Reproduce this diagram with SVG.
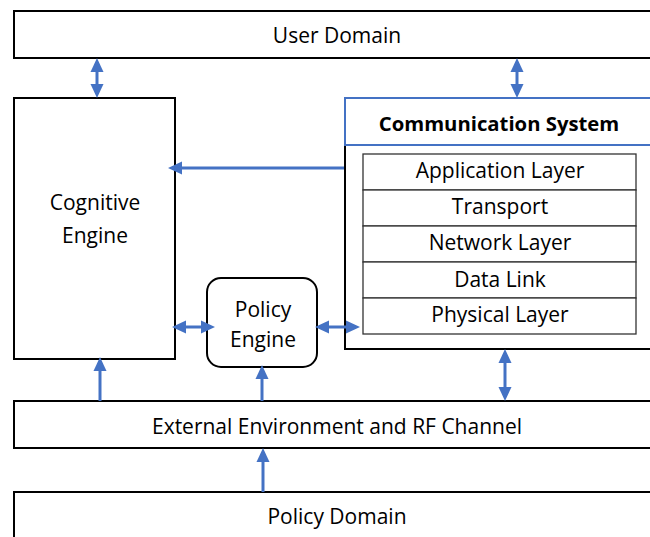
<svg xmlns="http://www.w3.org/2000/svg" width="650" height="537" viewBox="0 0 650 537">
  <style>
    .box { fill: #ffffff; stroke: #000000; stroke-width: 2; }
    .blue-box { fill: #ffffff; stroke: #4472C4; stroke-width: 2; }
    .layer { fill: #ffffff; stroke: #333333; stroke-width: 1.3; }
    .lbl { font-family: "Open Sans", "Liberation Sans", sans-serif; font-size: 21px; fill: #000000; text-anchor: middle; }
    .title { font-weight: bold; font-size: 20.3px; }
    .conn { stroke: #4472C4; stroke-width: 3; fill: none; }
  </style>
  <defs>
    <marker id="arrow" markerUnits="userSpaceOnUse" markerWidth="14" markerHeight="14" viewBox="0 0 14 14" refX="10" refY="7" orient="auto-start-reverse">
      <path d="M0,0.5 L14,7 L0,13.5 z" fill="#4472C4"/>
    </marker>
  </defs>

  <rect width="650" height="537" fill="#ffffff"/>

  <g id="user-domain">
    <rect class="box" x="14" y="11" width="646" height="47"/>
    <text class="lbl" x="337" y="43">User Domain</text>
  </g>

  <g id="cognitive-engine">
    <rect class="box" x="14" y="98" width="161" height="261"/>
    <text class="lbl" x="95" y="210">Cognitive</text>
    <text class="lbl" x="95" y="243">Engine</text>
  </g>

  <g id="policy-engine">
    <rect class="box" x="207" y="278" width="110" height="89" rx="14" ry="14"/>
    <text class="lbl" x="263" y="317">Policy</text>
    <text class="lbl" x="263" y="347">Engine</text>
  </g>

  <g id="communication-system">
    <rect class="box" x="345" y="145" width="315" height="204"/>
    <rect class="blue-box" x="345" y="98" width="315" height="47"/>
    <text class="lbl title" x="499" y="131">Communication System</text>
    <g id="layers">
      <rect class="layer" x="363" y="154" width="273" height="36"/>
      <rect class="layer" x="363" y="190" width="273" height="36"/>
      <rect class="layer" x="363" y="226" width="273" height="36"/>
      <rect class="layer" x="363" y="262" width="273" height="36"/>
      <rect class="layer" x="363" y="298" width="273" height="36"/>
      <text class="lbl" x="500" y="178">Application Layer</text>
      <text class="lbl" x="500" y="214">Transport</text>
      <text class="lbl" x="500" y="250">Network Layer</text>
      <text class="lbl" x="500" y="287">Data Link</text>
      <text class="lbl" x="500" y="322">Physical Layer</text>
    </g>
  </g>

  <g id="external-environment">
    <rect class="box" x="14" y="401" width="646" height="47"/>
    <text class="lbl" x="337" y="434">External Environment and RF Channel</text>
  </g>

  <g id="policy-domain">
    <rect class="box" x="14" y="492" width="646" height="60"/>
    <text class="lbl" x="337" y="524">Policy Domain</text>
  </g>

  <g id="connectors">
    <line class="conn" x1="97" y1="62" x2="97" y2="94" marker-start="url(#arrow)" marker-end="url(#arrow)"/>
    <line class="conn" x1="517" y1="62" x2="517" y2="94" marker-start="url(#arrow)" marker-end="url(#arrow)"/>
    <line class="conn" x1="344" y1="168" x2="172" y2="168" marker-end="url(#arrow)"/>
    <line class="conn" x1="176" y1="327" x2="211" y2="327" marker-start="url(#arrow)" marker-end="url(#arrow)"/>
    <line class="conn" x1="319" y1="327" x2="356" y2="327" marker-start="url(#arrow)" marker-end="url(#arrow)"/>
    <line class="conn" x1="100" y1="401" x2="100" y2="361" marker-end="url(#arrow)"/>
    <line class="conn" x1="262" y1="401" x2="262" y2="369" marker-end="url(#arrow)"/>
    <line class="conn" x1="505" y1="353" x2="505" y2="397" marker-start="url(#arrow)" marker-end="url(#arrow)"/>
    <line class="conn" x1="263" y1="492" x2="263" y2="452" marker-end="url(#arrow)"/>
  </g>
</svg>
